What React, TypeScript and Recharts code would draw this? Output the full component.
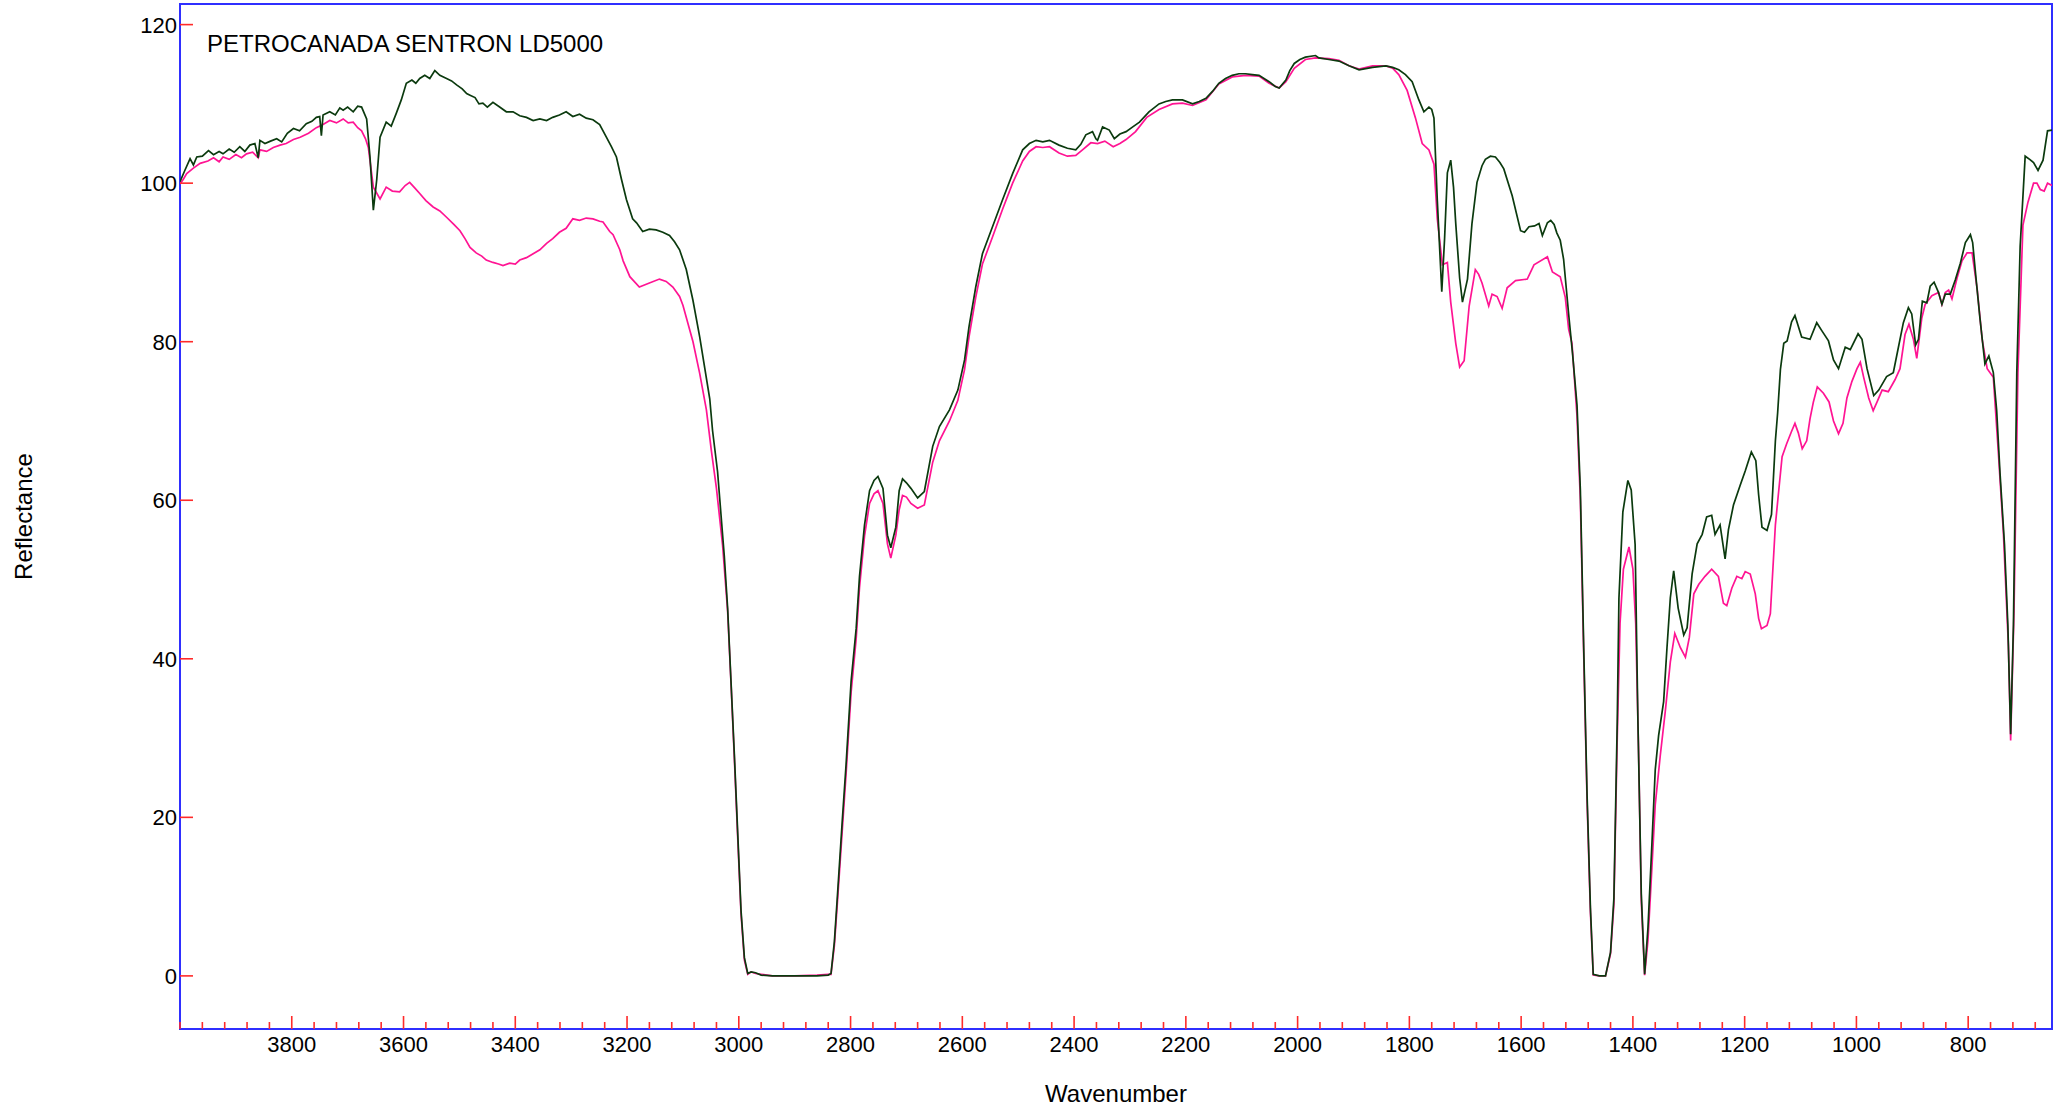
import { LineChart, Line, XAxis, YAxis, ReferenceArea, Label } from 'recharts';

// Spectrum readings [wavenumber, reflectance]
const greenSpectrum: [number, number][] = [
  [4000, 100.2], [3992, 101.5], [3982, 103.1], [3976, 102.3], [3970, 103.3], [3960, 103.4],
  [3949, 104.1], [3940, 103.6], [3930, 104.0], [3923, 103.7], [3912, 104.3], [3903, 103.9],
  [3893, 104.6], [3884, 104.0], [3875, 104.8], [3866, 105.0], [3860, 103.2], [3857, 105.4],
  [3848, 105.0], [3838, 105.3], [3827, 105.6], [3818, 105.2], [3808, 106.3], [3797, 106.9],
  [3786, 106.6], [3774, 107.5], [3764, 107.8], [3756, 108.3], [3750, 108.4], [3747, 106.0],
  [3744, 108.6], [3732, 109.0], [3722, 108.6], [3714, 109.5], [3708, 109.2], [3700, 109.6],
  [3690, 109.0], [3682, 109.7], [3675, 109.6], [3666, 108.1], [3660, 103.3], [3654, 96.6],
  [3648, 100.4], [3642, 105.8], [3631, 107.7], [3622, 107.2], [3613, 108.8], [3604, 110.5],
  [3595, 112.6], [3585, 113.0], [3578, 112.6], [3571, 113.2], [3562, 113.6], [3553, 113.2],
  [3544, 114.2], [3535, 113.6], [3523, 113.2], [3514, 112.9], [3505, 112.4], [3495, 111.9],
  [3487, 111.3], [3481, 111.1], [3472, 110.8], [3465, 110.0], [3458, 110.1], [3450, 109.6],
  [3440, 110.2], [3428, 109.6], [3416, 109.0], [3404, 109.0], [3392, 108.5], [3380, 108.3],
  [3368, 107.9], [3356, 108.1], [3344, 107.9], [3333, 108.3], [3321, 108.6], [3309, 109.0],
  [3297, 108.4], [3285, 108.7], [3273, 108.2], [3261, 108.0], [3249, 107.4], [3237, 105.8],
  [3228, 104.6], [3219, 103.3], [3210, 100.5], [3201, 97.9], [3190, 95.5], [3183, 95.0],
  [3172, 93.9], [3160, 94.2], [3148, 94.1], [3136, 93.8], [3124, 93.4], [3115, 92.6],
  [3106, 91.6], [3094, 89.1], [3082, 85.2], [3070, 80.6], [3061, 76.7], [3052, 72.8],
  [3047, 68.8], [3038, 63.6], [3032, 58.3], [3026, 53.0], [3020, 46.4], [3014, 37.2],
  [3008, 28.0], [3002, 18.1], [2996, 8.2], [2990, 2.3], [2984, 0.3], [2978, 0.5],
  [2970, 0.4], [2960, 0.1], [2940, 0], [2900, 0], [2860, 0], [2840, 0.1],
  [2835, 0.3], [2829, 4.3], [2824, 9.6], [2815, 19.4], [2808, 26.7], [2799, 37.2],
  [2790, 43.8], [2784, 50.4], [2775, 56.9], [2766, 61.2], [2758, 62.5], [2751, 63.0],
  [2742, 61.5], [2734, 55.6], [2728, 54.0], [2719, 56.6], [2713, 61.2], [2707, 62.7],
  [2700, 62.2], [2692, 61.5], [2680, 60.3], [2668, 61.1], [2653, 66.8], [2641, 69.3],
  [2623, 71.4], [2608, 73.9], [2596, 77.7], [2588, 81.9], [2576, 86.9], [2564, 91.1],
  [2546, 94.5], [2528, 97.9], [2510, 101.2], [2492, 104.2], [2480, 105.0], [2468, 105.4],
  [2456, 105.2], [2444, 105.4], [2427, 104.8], [2412, 104.4], [2397, 104.2], [2388, 104.9],
  [2379, 106.1], [2367, 106.5], [2361, 105.6], [2358, 105.4], [2349, 107.1], [2337, 106.7],
  [2328, 105.6], [2318, 106.2], [2307, 106.5], [2295, 107.1], [2283, 107.7], [2266, 109.0],
  [2248, 110.0], [2236, 110.3], [2224, 110.5], [2206, 110.5], [2188, 110.0], [2176, 110.3],
  [2164, 110.7], [2152, 111.6], [2141, 112.6], [2129, 113.2], [2117, 113.6], [2105, 113.8],
  [2093, 113.8], [2081, 113.7], [2069, 113.6], [2051, 112.8], [2040, 112.2], [2033, 112.0],
  [2021, 113.0], [2014, 114.2], [2006, 115.1], [1996, 115.6], [1986, 115.9], [1968, 116.1],
  [1962, 115.8], [1944, 115.6], [1926, 115.4], [1908, 114.8], [1890, 114.3], [1866, 114.6],
  [1842, 114.8], [1830, 114.6], [1819, 114.3], [1807, 113.7], [1795, 112.8], [1783, 110.5],
  [1774, 109.0], [1765, 109.6], [1760, 109.3], [1756, 108.2], [1750, 97.8], [1742, 86.3],
  [1737, 93.0], [1732, 101.3], [1726, 102.9], [1721, 99.5], [1717, 94.9], [1710, 88.0],
  [1705, 85.0], [1696, 87.9], [1688, 94.9], [1679, 100.1], [1670, 102.2], [1664, 103.0],
  [1655, 103.4], [1646, 103.3], [1638, 102.6], [1631, 101.8], [1616, 98.4], [1601, 94.0],
  [1594, 93.8], [1586, 94.5], [1576, 94.6], [1568, 94.9], [1562, 93.4], [1553, 95.0],
  [1547, 95.3], [1541, 94.8], [1536, 93.7], [1530, 92.8], [1524, 90.4], [1515, 83.5],
  [1508, 78.5], [1500, 72.0], [1494, 61.3], [1488, 41.4], [1482, 22.8], [1476, 8.6],
  [1471, 0.2], [1460, 0], [1449, 0], [1440, 3.0], [1434, 9.8], [1428, 32.1],
  [1425, 47.6], [1418, 58.5], [1409, 62.5], [1403, 61.3], [1396, 54.4], [1391, 32.1],
  [1385, 10.4], [1379, 0.2], [1373, 6.1], [1366, 16.6], [1360, 26.0], [1354, 30.3],
  [1345, 34.6], [1339, 41.4], [1333, 47.7], [1327, 51.1], [1319, 46.4], [1309, 43.0],
  [1303, 43.9], [1294, 50.7], [1285, 54.5], [1276, 55.7], [1268, 57.9], [1259, 58.1],
  [1253, 55.7], [1244, 56.9], [1235, 52.6], [1229, 56.3], [1220, 59.4], [1208, 61.9],
  [1199, 63.7], [1188, 66.1], [1180, 65.0], [1175, 60.7], [1169, 56.6], [1160, 56.2],
  [1152, 58.2], [1145, 67.5], [1141, 71.0], [1136, 76.5], [1130, 79.8], [1124, 80.1],
  [1116, 82.5], [1110, 83.3], [1098, 80.6], [1083, 80.3], [1071, 82.4], [1062, 81.4],
  [1050, 80.1], [1041, 77.7], [1032, 76.6], [1020, 79.3], [1011, 79.0], [997, 81.0],
  [990, 80.3], [981, 76.6], [969, 73.2], [960, 73.9], [946, 75.6], [934, 76.1],
  [928, 78.2], [916, 82.4], [907, 84.3], [901, 83.5], [894, 79.6], [889, 80.3],
  [882, 85.1], [874, 84.9], [868, 87.0], [861, 87.5], [853, 86.2], [847, 84.7],
  [841, 86.0], [832, 86.0], [823, 87.8], [814, 89.9], [805, 92.5], [796, 93.5],
  [792, 92.5], [785, 87.3], [779, 83.0], [770, 77.2], [763, 78.2], [755, 76.1],
  [749, 71.3], [743, 63.4], [735, 54.4], [729, 44.3], [724, 30.5], [719, 44.3],
  [713, 76.1], [707, 92.0], [698, 103.4], [690, 103.0], [683, 102.6], [675, 101.6],
  [666, 102.9], [658, 106.6], [650, 106.7],
];

const pinkSpectrum: [number, number][] = [
  [4000, 99.9], [3994, 100.5], [3988, 101.2], [3976, 101.9], [3964, 102.5], [3950, 102.8],
  [3940, 103.2], [3930, 102.7], [3923, 103.3], [3912, 103.0], [3900, 103.6], [3890, 103.2],
  [3881, 103.7], [3870, 103.9], [3860, 103.2], [3857, 104.2], [3845, 104.0], [3833, 104.5],
  [3821, 104.8], [3810, 105.0], [3797, 105.5], [3785, 105.8], [3770, 106.3], [3756, 107.0],
  [3744, 107.4], [3732, 107.9], [3720, 107.6], [3708, 108.1], [3699, 107.6], [3690, 107.7],
  [3682, 107.0], [3675, 106.6], [3668, 105.6], [3663, 104.5], [3654, 99.5], [3642, 98.0],
  [3631, 99.5], [3620, 99.0], [3607, 98.9], [3597, 99.7], [3589, 100.1], [3580, 99.4],
  [3571, 98.7], [3560, 97.8], [3547, 97.0], [3535, 96.5], [3523, 95.7], [3510, 94.8],
  [3499, 94.0], [3490, 93.0], [3481, 91.9], [3470, 91.2], [3460, 90.8], [3452, 90.3],
  [3440, 90.0], [3430, 89.8], [3422, 89.6], [3410, 89.9], [3400, 89.8], [3392, 90.3],
  [3380, 90.6], [3368, 91.1], [3356, 91.6], [3344, 92.4], [3333, 93.0], [3321, 93.8],
  [3309, 94.3], [3297, 95.5], [3285, 95.3], [3273, 95.6], [3261, 95.5], [3249, 95.2],
  [3243, 95.1], [3231, 93.9], [3225, 93.5], [3213, 91.6], [3207, 90.2], [3195, 88.2],
  [3178, 86.9], [3160, 87.4], [3142, 87.9], [3130, 87.6], [3118, 86.9], [3106, 85.7],
  [3100, 84.6], [3082, 80.0], [3070, 76.0], [3058, 71.4], [3049, 66.2], [3040, 61.5],
  [3029, 54.3], [3020, 46.0], [3014, 37.0], [3008, 27.5], [3002, 17.5], [2996, 7.8],
  [2990, 2.0], [2984, 0.2], [2978, 0.5], [2970, 0.3], [2960, 0.2], [2940, 0],
  [2900, 0], [2860, 0.1], [2840, 0.2], [2835, 0.2], [2829, 3.8], [2824, 8.8],
  [2815, 18.2], [2808, 25.5], [2799, 35.8], [2790, 42.5], [2784, 49.0], [2775, 55.5],
  [2766, 59.6], [2758, 60.8], [2751, 61.2], [2742, 59.6], [2734, 54.5], [2728, 52.7],
  [2719, 55.6], [2713, 58.8], [2707, 60.6], [2700, 60.4], [2692, 59.6], [2680, 59.0],
  [2668, 59.4], [2653, 64.8], [2641, 67.5], [2623, 70.0], [2608, 72.6], [2596, 76.5],
  [2588, 80.6], [2576, 85.6], [2564, 89.8], [2546, 93.2], [2528, 96.7], [2510, 100.0],
  [2492, 102.8], [2480, 104.0], [2468, 104.6], [2456, 104.5], [2444, 104.6], [2427, 103.8],
  [2412, 103.4], [2397, 103.5], [2385, 104.2], [2370, 105.1], [2358, 105.0], [2345, 105.3],
  [2330, 104.6], [2318, 105.0], [2307, 105.5], [2290, 106.5], [2270, 108.3], [2248, 109.3],
  [2224, 110.0], [2206, 110.1], [2188, 109.8], [2164, 110.5], [2141, 112.5], [2117, 113.4],
  [2093, 113.6], [2069, 113.5], [2051, 112.6], [2033, 112.0], [2021, 112.8], [2006, 114.5],
  [1986, 115.6], [1968, 115.8], [1944, 115.7], [1926, 115.5], [1908, 114.8], [1890, 114.4],
  [1866, 114.8], [1842, 114.8], [1830, 114.5], [1819, 113.7], [1804, 111.7], [1789, 108.2],
  [1777, 105.0], [1765, 104.2], [1756, 102.4], [1750, 95.5], [1741, 89.7], [1732, 90.0],
  [1726, 85.0], [1717, 79.8], [1710, 76.8], [1702, 77.6], [1693, 84.5], [1682, 89.1],
  [1676, 88.5], [1670, 87.4], [1658, 84.5], [1652, 86.0], [1643, 85.7], [1634, 84.2],
  [1625, 86.8], [1610, 87.7], [1589, 87.9], [1577, 89.7], [1553, 90.7], [1544, 88.8],
  [1530, 88.2], [1521, 85.6], [1515, 81.6], [1509, 79.8], [1500, 70.6], [1494, 60.0],
  [1488, 40.5], [1482, 22.0], [1476, 8.0], [1471, 0.1], [1460, 0], [1449, 0],
  [1440, 2.8], [1434, 9.0], [1428, 30.0], [1423, 44.5], [1417, 51.3], [1407, 54.1],
  [1400, 51.3], [1395, 44.5], [1390, 29.0], [1385, 9.5], [1379, 0.1], [1373, 4.5],
  [1366, 13.6], [1360, 21.6], [1351, 27.8], [1342, 33.4], [1333, 39.6], [1325, 43.2],
  [1315, 41.4], [1306, 40.2], [1299, 42.7], [1291, 48.2], [1282, 49.4], [1271, 50.4],
  [1259, 51.3], [1247, 50.4], [1238, 47.0], [1232, 46.7], [1223, 48.9], [1214, 50.4],
  [1205, 50.1], [1199, 51.0], [1190, 50.7], [1181, 48.2], [1175, 45.1], [1170, 43.8],
  [1160, 44.2], [1154, 45.7], [1150, 50.7], [1145, 56.9], [1140, 60.5], [1133, 65.5],
  [1125, 67.1], [1116, 68.7], [1110, 69.7], [1104, 68.5], [1097, 66.5], [1089, 67.5],
  [1083, 70.3], [1077, 72.4], [1070, 74.3], [1059, 73.5], [1049, 72.4], [1041, 70.0],
  [1032, 68.4], [1024, 69.7], [1017, 72.9], [1008, 75.0], [999, 76.6], [993, 77.4],
  [987, 75.5], [978, 72.9], [970, 71.3], [963, 72.4], [954, 73.9], [943, 73.7],
  [931, 75.2], [922, 76.6], [913, 80.9], [906, 82.2], [898, 80.3], [892, 77.9],
  [883, 83.0], [877, 84.7], [865, 85.8], [853, 86.2], [847, 84.7], [841, 86.2],
  [835, 86.5], [829, 85.4], [820, 88.0], [811, 90.2], [802, 91.2], [793, 91.2],
  [784, 86.7], [775, 80.3], [766, 76.6], [755, 75.5], [746, 66.0], [737, 55.9],
  [728, 41.6], [724, 29.7], [718, 45.9], [711, 76.1], [702, 94.7], [693, 97.6],
  [683, 100.0], [677, 100.0], [671, 99.2], [664, 99.0], [658, 100.0], [650, 99.7],
];

const yTicks = [0, 20, 40, 60, 80, 100, 120];
const xLabels = [800, 1000, 1200, 1400, 1600, 1800, 2000, 2200, 2400, 2600, 2800, 3000, 3200, 3400, 3600, 3800];

const xDomain: [number, number] = [650, 4000];
const yDomain: [number, number] = [-6.7, 122.6];

// minor ticks every 40 cm-1
const xTicks: number[] = [];
for (let w = 680; w <= 4000; w += 40) xTicks.push(w);

const greenData = greenSpectrum.map(([w, v]) => ({ w, v }));
const pinkData = pinkSpectrum.map(([w, v]) => ({ w, v }));

const FONT = '"Liberation Sans", Arial, Helvetica, sans-serif';
const TICK_RED = '#ff2a2a';
const FRAME_BLUE = '#2f2fff';

function YTick({ x, y, payload }: any) {
  return (
    <g>
      <line x1={x} x2={x + 13} y1={y} y2={y} stroke={TICK_RED} strokeWidth={1.6} />
      <text x={x - 3} y={y + 8} textAnchor="end" fontSize={22} fontFamily={FONT} fill="#000">
        {payload.value}
      </text>
    </g>
  );
}

function XTick({ x, y, payload }: any) {
  const major = xLabels.includes(payload.value);
  return (
    <g>
      <line x1={x} x2={x} y1={y} y2={y - (major ? 13 : 7)} stroke={TICK_RED} strokeWidth={1.6} />
      {major && (
        <text x={x} y={y + 23} textAnchor="middle" fontSize={22} fontFamily={FONT} fill="#000">
          {payload.value}
        </text>
      )}
    </g>
  );
}

export default function App() {
  return (
    <div style={{ position: 'absolute', left: 0, top: 0, width: 2065, height: 1111, background: '#fff' }}>
      <LineChart width={2065} height={1111} margin={{ top: 4, right: 13, bottom: 42, left: 120 }}>
        <XAxis
          dataKey="w"
          type="number"
          domain={xDomain}
          reversed
          allowDataOverflow
          ticks={xTicks}
          interval={0}
          tickSize={0}
          tickMargin={0}
          axisLine={false}
          tickLine={false}
          tick={<XTick />}
          height={40}
        >
          <Label
            content={({ viewBox }: any) => (
              <text
                x={viewBox.x + viewBox.width / 2}
                y={viewBox.y + 73}
                textAnchor="middle"
                fontSize={24}
                fontFamily={FONT}
                fill="#000"
              >
                Wavenumber
              </text>
            )}
          />
        </XAxis>
        <YAxis
          type="number"
          domain={yDomain}
          allowDataOverflow
          ticks={yTicks}
          interval={0}
          tickSize={0}
          tickMargin={0}
          axisLine={false}
          tickLine={false}
          tick={<YTick />}
          width={60}
        >
          <Label
            content={({ viewBox }: any) => {
              const cx = viewBox.x - 88;
              const cy = viewBox.y + viewBox.height / 2;
              return (
                <text
                  x={cx}
                  y={cy}
                  transform={`rotate(-90 ${cx} ${cy})`}
                  textAnchor="middle"
                  fontSize={24}
                  fontFamily={FONT}
                  fill="#000"
                >
                  Reflectance
                </text>
              );
            }}
          />
        </YAxis>
        <ReferenceArea
          x1={xDomain[1]}
          x2={xDomain[0]}
          y1={yDomain[0]}
          y2={yDomain[1]}
          ifOverflow="visible"
          fill="none"
          fillOpacity={0}
          stroke={FRAME_BLUE}
          strokeWidth={2}
        >
          <Label
            content={({ viewBox }: any) => (
              <text x={viewBox.x + 27} y={viewBox.y + 48} fontSize={24} fontFamily={FONT} fill="#000">
                PETROCANADA SENTRON LD5000
              </text>
            )}
          />
        </ReferenceArea>
        <Line
          data={pinkData}
          dataKey="v"
          type="linear"
          stroke="#ff1493"
          strokeWidth={1.7}
          dot={false}
          activeDot={false}
          isAnimationActive={false}
        />
        <Line
          data={greenData}
          dataKey="v"
          type="linear"
          stroke="#0b3a0e"
          strokeWidth={1.7}
          dot={false}
          activeDot={false}
          isAnimationActive={false}
        />
      </LineChart>
    </div>
  );
}
